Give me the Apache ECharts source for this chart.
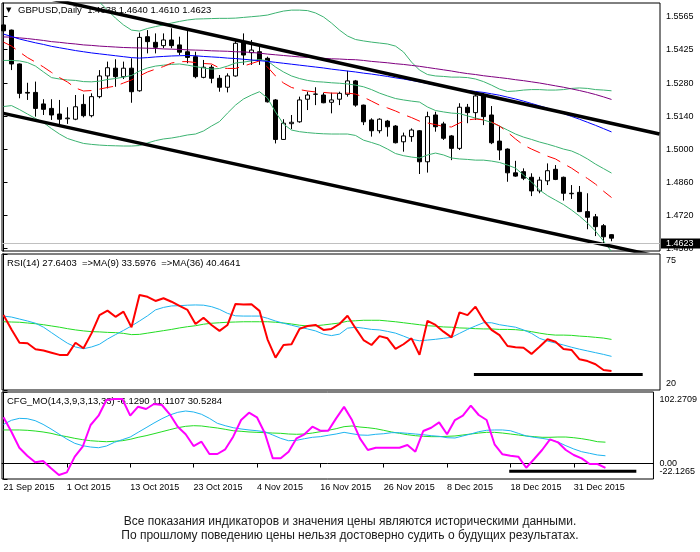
<!DOCTYPE html>
<html lang="en">

<head>
    <meta charset="UTF-8">
    <title>GBPUSD, Daily</title>
    <script src="https://cdn.jsdelivr.net/npm/echarts@6/dist/echarts.min.js"></script>
    <style>
        html, body { margin: 0; padding: 0; background: #fff; }
        #main { width: 700px; height: 552px; }
    </style>
</head>

<body>
    <div id="main"></div>
    <script>
        // daily bars 21 Sep 2015 .. 7 Jan 2016 (no bars on 25 Dec and 1 Jan), x = bar index
        var dateLabels = ['21 Sep 2015', '1 Oct 2015', '13 Oct 2015', '23 Oct 2015', '4 Nov 2015',
            '16 Nov 2015', '26 Nov 2015', '8 Dec 2015', '18 Dec 2015', '31 Dec 2015'];
        var dateLabelIdx = [0, 8, 16, 24, 32, 40, 48, 56, 64, 72];

        var opens = [1.5530, 1.5508, 1.5364, 1.5243, 1.5243, 1.5194, 1.5175, 1.5151, 1.5131, 1.5129,
            1.5192, 1.5144, 1.5225, 1.5313, 1.5346, 1.5310, 1.5346, 1.5250, 1.5480, 1.5456,
            1.5442, 1.5466, 1.5445, 1.5416, 1.5395, 1.5307, 1.5350, 1.5303, 1.5265, 1.5313,
            1.5455, 1.5412, 1.5416, 1.5388, 1.5211, 1.5043, 1.5110, 1.5118, 1.5214, 1.5235,
            1.5232, 1.5201, 1.5214, 1.5235, 1.5292, 1.5189, 1.5126, 1.5080, 1.5121, 1.5100,
            1.5033, 1.5055, 1.5080, 1.4948, 1.5147, 1.5109, 1.5058, 1.5005, 1.5180, 1.5157,
            1.5232, 1.5147, 1.5036, 1.5002, 1.4901, 1.4906, 1.4882, 1.4824, 1.4867, 1.4916,
            1.4882, 1.4812, 1.4818, 1.4736, 1.4714, 1.4676, 1.4638];
        var highs = [1.5545, 1.5510, 1.5366, 1.5284, 1.5289, 1.5214, 1.5214, 1.5211, 1.5180, 1.5232,
            1.5235, 1.5239, 1.5338, 1.5374, 1.5384, 1.5374, 1.5388, 1.5497, 1.5508, 1.5494,
            1.5494, 1.5516, 1.5480, 1.5516, 1.5416, 1.5381, 1.5360, 1.5317, 1.5324, 1.5466,
            1.5494, 1.5466, 1.5437, 1.5395, 1.5215, 1.5129, 1.5147, 1.5225, 1.5246, 1.5265,
            1.5242, 1.5242, 1.5246, 1.5335, 1.5296, 1.5191, 1.5133, 1.5133, 1.5126, 1.5104,
            1.5072, 1.5090, 1.5083, 1.5161, 1.5161, 1.5118, 1.5062, 1.5197, 1.5194, 1.5242,
            1.5242, 1.5185, 1.5100, 1.5005, 1.4952, 1.4920, 1.4899, 1.4884, 1.4941, 1.4934,
            1.4885, 1.4849, 1.4845, 1.4814, 1.4726, 1.4683, 1.4640];
        var lows = [1.5495, 1.5338, 1.5218, 1.5211, 1.5140, 1.5147, 1.5126, 1.5104, 1.5109, 1.5125,
            1.5137, 1.5137, 1.5218, 1.5260, 1.5267, 1.5300, 1.5199, 1.5246, 1.5409, 1.5409,
            1.5431, 1.5431, 1.5402, 1.5367, 1.5303, 1.5303, 1.5282, 1.5246, 1.5243, 1.5310,
            1.5360, 1.5360, 1.5360, 1.5200, 1.5026, 1.5041, 1.5087, 1.5114, 1.5168, 1.5189,
            1.5197, 1.5154, 1.5189, 1.5225, 1.5182, 1.5104, 1.5055, 1.5069, 1.5055, 1.5026,
            1.4991, 1.5033, 1.4896, 1.4902, 1.5076, 1.5041, 1.4955, 1.4998, 1.5112, 1.5126,
            1.5104, 1.5023, 1.4955, 1.4863, 1.4884, 1.4870, 1.4802, 1.4814, 1.4849, 1.4870,
            1.4783, 1.4790, 1.4734, 1.4661, 1.4632, 1.4590, 1.4610];
        var closes = [1.5505, 1.5364, 1.5239, 1.5240, 1.5175, 1.5171, 1.5147, 1.5129, 1.5134, 1.5182,
            1.5144, 1.5225, 1.5313, 1.5348, 1.5310, 1.5346, 1.5246, 1.5477, 1.5459, 1.5435,
            1.5466, 1.5442, 1.5414, 1.5392, 1.5310, 1.5350, 1.5303, 1.5265, 1.5313, 1.5452,
            1.5402, 1.5423, 1.5381, 1.5203, 1.5043, 1.5112, 1.5116, 1.5211, 1.5232, 1.5236,
            1.5199, 1.5211, 1.5239, 1.5292, 1.5189, 1.5118, 1.5080, 1.5129, 1.5097, 1.5029,
            1.5058, 1.5083, 1.4948, 1.5140, 1.5097, 1.5048, 1.5005, 1.5180, 1.5157, 1.5228,
            1.5140, 1.5029, 1.4998, 1.4901, 1.4887, 1.4878, 1.4824, 1.4870, 1.4910, 1.4873,
            1.4814, 1.4814, 1.4736, 1.4712, 1.4672, 1.4629, 1.4623];
        var lastPrice = 1.4623;

        // moving averages and bands on the price chart
        var maFast = [1.5457, 1.5440, 1.5415, 1.5391, 1.5372, 1.5351, 1.5328, 1.5306, 1.5287, 1.5262,
            1.5249, 1.5251, 1.5257, 1.5264, 1.5270, 1.5283, 1.5296, 1.5313, 1.5330, 1.5342,
            1.5353, 1.5368, 1.5374, 1.5374, 1.5370, 1.5366, 1.5364, 1.5347, 1.5345, 1.5345,
            1.5355, 1.5366, 1.5377, 1.5351, 1.5313, 1.5283, 1.5264, 1.5255, 1.5249, 1.5245,
            1.5243, 1.5240, 1.5240, 1.5240, 1.5236, 1.5223, 1.5206, 1.5189, 1.5177, 1.5164,
            1.5149, 1.5136, 1.5121, 1.5113, 1.5106, 1.5098, 1.5096, 1.5113, 1.5126, 1.5130,
            1.5126, 1.5117, 1.5100, 1.5074, 1.5045, 1.5019, 1.5002, 1.4987, 1.4972, 1.4960,
            1.4940, 1.4921, 1.4898, 1.4877, 1.4853, 1.4823, 1.4796];
        var maMid = [1.5491, 1.5481, 1.5470, 1.5462, 1.5454, 1.5447, 1.5439, 1.5433, 1.5427, 1.5421,
            1.5416, 1.5411, 1.5407, 1.5403, 1.5399, 1.5395, 1.5391, 1.5389, 1.5391, 1.5394,
            1.5396, 1.5398, 1.5399, 1.5400, 1.5399, 1.5396, 1.5394, 1.5392, 1.5389, 1.5387,
            1.5384, 1.5381, 1.5378, 1.5375, 1.5371, 1.5367, 1.5363, 1.5359, 1.5355, 1.5351,
            1.5347, 1.5342, 1.5338, 1.5334, 1.5330, 1.5325, 1.5321, 1.5316, 1.5311, 1.5305,
            1.5300, 1.5294, 1.5288, 1.5281, 1.5274, 1.5268, 1.5262, 1.5256, 1.5251, 1.5247,
            1.5243, 1.5237, 1.5231, 1.5223, 1.5215, 1.5206, 1.5196, 1.5186, 1.5176, 1.5165,
            1.5153, 1.5141, 1.5129, 1.5116, 1.5103, 1.5089, 1.5075];
        var maSlow = [1.5479, 1.5478, 1.5475, 1.5472, 1.5468, 1.5464, 1.5459, 1.5456, 1.5452, 1.5449,
            1.5445, 1.5443, 1.5440, 1.5438, 1.5436, 1.5434, 1.5433, 1.5432, 1.5431, 1.5430,
            1.5428, 1.5427, 1.5426, 1.5424, 1.5423, 1.5422, 1.5420, 1.5419, 1.5418, 1.5416,
            1.5415, 1.5413, 1.5410, 1.5406, 1.5403, 1.5400, 1.5397, 1.5394, 1.5392, 1.5390,
            1.5388, 1.5386, 1.5385, 1.5383, 1.5382, 1.5379, 1.5375, 1.5372, 1.5369, 1.5365,
            1.5362, 1.5358, 1.5354, 1.5349, 1.5344, 1.5339, 1.5334, 1.5328, 1.5323, 1.5319,
            1.5314, 1.5310, 1.5306, 1.5302, 1.5297, 1.5293, 1.5288, 1.5283, 1.5277, 1.5271,
            1.5265, 1.5258, 1.5251, 1.5243, 1.5234, 1.5224, 1.5213];
        var bandUp = [1.5670, 1.5670, 1.5666, 1.5666, 1.5662, 1.5662, 1.5657, 1.5657, 1.5653, 1.5653,
            1.5649, 1.5649, 1.5627, 1.5593, 1.5559, 1.5530, 1.5508, 1.5504, 1.5515, 1.5523,
            1.5530, 1.5538, 1.5545, 1.5551, 1.5555, 1.5556, 1.5557, 1.5558, 1.5558, 1.5559,
            1.5562, 1.5565, 1.5568, 1.5572, 1.5581, 1.5589, 1.5593, 1.5593, 1.5591, 1.5581,
            1.5564, 1.5538, 1.5508, 1.5483, 1.5468, 1.5462, 1.5457, 1.5453, 1.5449, 1.5440,
            1.5415, 1.5372, 1.5338, 1.5319, 1.5313, 1.5311, 1.5308, 1.5308, 1.5306, 1.5300,
            1.5289, 1.5274, 1.5257, 1.5247, 1.5249, 1.5253, 1.5255, 1.5255, 1.5253, 1.5253,
            1.5255, 1.5260, 1.5262, 1.5260, 1.5255, 1.5253, 1.5250];
        var bandMid = [1.5379, 1.5379, 1.5377, 1.5370, 1.5355, 1.5330, 1.5306, 1.5300, 1.5296, 1.5294,
            1.5289, 1.5288, 1.5291, 1.5298, 1.5302, 1.5308, 1.5315, 1.5334, 1.5347, 1.5355,
            1.5359, 1.5362, 1.5364, 1.5359, 1.5353, 1.5347, 1.5342, 1.5345, 1.5355, 1.5368,
            1.5372, 1.5377, 1.5383, 1.5377, 1.5351, 1.5330, 1.5313, 1.5302, 1.5294, 1.5289,
            1.5287, 1.5284, 1.5282, 1.5279, 1.5274, 1.5267, 1.5255, 1.5240, 1.5228, 1.5217,
            1.5211, 1.5206, 1.5202, 1.5181, 1.5166, 1.5160, 1.5155, 1.5153, 1.5143, 1.5134,
            1.5126, 1.5115, 1.5100, 1.5083, 1.5066, 1.5053, 1.5043, 1.5032, 1.5023, 1.5013,
            1.5002, 1.4994, 1.4979, 1.4960, 1.4938, 1.4919, 1.4900];
        var bandLow = [1.5183, 1.5187, 1.5170, 1.5151, 1.5132, 1.5115, 1.5089, 1.5066, 1.5047, 1.5036,
            1.5026, 1.5022, 1.5019, 1.5017, 1.5016, 1.5015, 1.5015, 1.5017, 1.5028, 1.5038,
            1.5045, 1.5049, 1.5055, 1.5062, 1.5066, 1.5079, 1.5100, 1.5119, 1.5155, 1.5189,
            1.5215, 1.5232, 1.5246, 1.5219, 1.5160, 1.5108, 1.5083, 1.5076, 1.5072, 1.5069,
            1.5067, 1.5066, 1.5066, 1.5066, 1.5060, 1.5040, 1.5030, 1.5019, 1.5002, 1.4983,
            1.4974, 1.4968, 1.4964, 1.4977, 1.4985, 1.4977, 1.4964, 1.4960, 1.4958, 1.4955,
            1.4955, 1.4951, 1.4945, 1.4934, 1.4921, 1.4892, 1.4862, 1.4828, 1.4804, 1.4785,
            1.4766, 1.4743, 1.4717, 1.4687, 1.4653, 1.4611, 1.4566];

        // hand drawn channel lines: [bar index, price]
        var channelTop = [[0, 1.5685], [82, 1.5066]];
        var channelBottom = [[0, 1.5154], [82, 1.4544]];

        // RSI(14) with its moving averages
        var rsi = [50.3, 44.5, 39.1, 38.9, 36.5, 36.0, 35.1, 34.2, 34.2, 39.1,
            36.9, 42.9, 50.3, 52.1, 49.6, 51.7, 45.4, 58.4, 57.7, 56.0,
            57.1, 55.7, 54.0, 52.4, 46.7, 49.2, 46.3, 43.9, 46.3, 54.8,
            54.6, 54.7, 52.0, 40.5, 33.1, 38.2, 38.5, 44.7, 45.9, 46.3,
            44.3, 44.7, 46.7, 50.0, 45.0, 40.2, 38.2, 41.8, 40.9, 36.6,
            38.5, 40.9, 34.2, 48.0, 46.3, 43.6, 41.3, 51.4, 50.3, 53.7,
            48.3, 44.3, 42.2, 37.8, 37.3, 37.1, 34.6, 37.5, 40.5, 39.5,
            36.6, 36.2, 32.4, 31.7, 30.4, 28.1, 27.64];
        var rsiMa9 = [49.9, 49.5, 48.7, 47.9, 47.0, 45.4, 43.2, 41.0, 38.9, 37.4,
            36.7, 37.4, 38.5, 40.6, 42.4, 44.1, 45.9, 47.9, 50.0, 52.4,
            53.4, 54.0, 54.1, 54.3, 54.4, 54.3, 53.7, 52.6, 51.0, 50.0,
            49.9, 49.9, 49.9, 49.0, 47.9, 47.0, 46.2, 45.4, 44.7, 43.9,
            42.6, 42.0, 42.6, 45.0, 45.4, 45.0, 44.5, 44.3, 43.7, 43.0,
            41.8, 40.5, 39.9, 40.2, 40.5, 40.9, 41.3, 42.9, 44.5, 45.9,
            47.2, 47.2, 46.4, 45.9, 45.4, 44.3, 42.9, 40.9, 39.8, 39.0,
            38.2, 37.3, 36.5, 35.8, 35.1, 34.4, 33.60];
        var rsiMa36 = [47.6, 47.5, 47.4, 47.1, 46.8, 46.4, 45.9, 45.4, 44.8, 44.3,
            43.9, 43.6, 43.5, 43.3, 43.2, 42.9, 42.4, 42.5, 43.0, 43.5,
            44.0, 44.5, 45.1, 45.6, 46.0, 46.6, 47.0, 47.2, 47.4, 47.5,
            47.6, 47.6, 47.6, 47.6, 47.4, 47.1, 46.7, 46.2, 45.9, 46.0,
            46.3, 46.7, 47.1, 47.8, 48.0, 48.2, 48.2, 48.2, 47.9, 47.6,
            47.2, 46.8, 46.4, 46.0, 45.8, 45.5, 45.4, 45.1, 45.0, 44.8,
            44.7, 44.7, 44.5, 44.5, 44.4, 44.1, 43.6, 43.0, 42.5, 42.2,
            42.2, 42.1, 41.8, 41.6, 41.3, 41.0, 40.46];
        var rsiFloor = [[58.8, 26.3], [79.9, 26.3]];

        // CFG_MO(14,3,9,3,13,33)
        var cfgMain = [66.1, 45.5, 22.6, 11.2, 1.7, 3.6, -6.9, -16.4, -12.6, 9.8,
            24.0, 55.1, 68.4, 90.8, 92.2, 92.2, 68.4, 81.3, 78.0, 85.1,
            83.7, 70.4, 52.7, 41.8, 25.0, 31.2, 13.6, 13.6, 20.3, 38.4,
            62.2, 72.7, 66.1, 43.2, 7.4, 7.4, 16.9, 36.0, 41.8, 52.7,
            46.9, 46.9, 64.6, 81.0, 62.2, 36.0, 19.3, 22.6, 22.6, 22.6,
            22.6, 26.5, 16.9, 46.5, 51.2, 58.9, 41.8, 62.2, 68.4, 82.7,
            69.4, 62.2, 27.5, 13.2, 11.2, 9.8, -6.0, 6.5, 19.3, 34.6,
            30.3, 19.3, 12.2, 7.4, -0.7, -0.7, -6.129];
        var cfgFast = [56.0, 61.8, 64.6, 64.1, 61.3, 56.0, 49.4, 42.2, 35.0, 28.9,
            25.5, 23.6, 22.6, 25.0, 30.3, 34.1, 37.9, 44.6, 51.2, 57.9,
            64.1, 69.4, 73.2, 75.1, 73.7, 70.4, 64.6, 57.5, 54.1, 51.2,
            49.4, 48.0, 46.9, 45.5, 40.8, 36.0, 32.6, 33.2, 35.5, 37.5,
            38.4, 40.4, 42.2, 44.6, 42.6, 40.8, 40.4, 41.8, 42.6, 44.1,
            44.1, 43.2, 42.2, 41.2, 39.8, 38.9, 36.9, 36.5, 39.4, 42.2,
            45.5, 47.5, 48.0, 48.0, 46.9, 43.2, 39.4, 37.5, 36.0, 34.1,
            30.8, 25.5, 20.8, 16.9, 14.6, 12.2, 11.11];
        var cfgSlow = [48.0, 48.0, 48.0, 47.5, 46.5, 45.1, 43.2, 40.4, 38.4, 36.0,
            34.1, 32.6, 31.8, 31.2, 31.8, 32.6, 34.6, 37.5, 39.8, 42.6,
            45.5, 48.4, 51.2, 53.2, 54.1, 53.7, 52.2, 50.8, 48.9, 46.9,
            46.1, 45.1, 44.6, 44.1, 43.6, 43.2, 42.2, 41.8, 42.2, 43.6,
            45.5, 47.5, 49.8, 52.7, 53.7, 52.2, 51.2, 49.8, 47.5, 45.1,
            43.2, 41.2, 39.8, 38.9, 38.4, 38.4, 38.9, 39.4, 40.8, 42.2,
            43.6, 44.6, 44.6, 43.6, 42.2, 40.8, 39.4, 38.4, 37.5, 37.5,
            37.9, 37.9, 36.9, 35.5, 33.6, 31.2, 30.53];
        var cfgFloor = [[63.85, -11.0], [79.9, -11.0]];

        // axis tick labels
        var priceTicks = [1.5565, 1.5425, 1.5280, 1.5140, 1.5000, 1.4860, 1.4720, 1.4580];
        var rsiTicks = [75, 20];
        var cfgTicks = [102.2709, 0, -22.1265];
        var cfgTickText = ['102.2709', '0.00', '-22.1265'];

        var priceTitle = 'GBPUSD,Daily  1.4638 1.4640 1.4610 1.4623';
        var rsiTitle = 'RSI(14) 27.6403  =>MA(9) 33.5976  =>MA(36) 40.4641';
        var cfgTitle = 'CFG_MO(14,3,9,3,13,33) -6.1290 11.1107 30.5284';
        var notes = ['Все показания индикаторов и значения цены являются историческими данными.',
            'По прошлому поведению цены нельзя достоверно судить о будущих результатах.'];

        var FONT = '"Liberation Sans", Arial, sans-serif';
        var X_MIN = -0.1875, X_MAX = 82.0625;

        function withIndex(arr) {
            return arr.map(function (v, i) { return [i, v]; });
        }

        function line(name, arr, grid, color, width, dash) {
            return {
                name: name,
                type: 'line',
                xAxisIndex: grid,
                yAxisIndex: grid,
                data: arr,
                symbol: 'none',
                silent: true,
                clip: true,
                lineStyle: { color: color, width: width, type: dash || 'solid' }
            };
        }

        var candles = opens.map(function (o, i) {
            return [i, o, closes[i], lows[i], highs[i]];
        });

        var myChart = echarts.init(document.getElementById('main'), null, { renderer: 'canvas' });

        var gridBox = { left: 2, width: 658, show: true, borderColor: '#000', borderWidth: 1, backgroundColor: '#fff' };
        var tickFont = { color: '#000', fontSize: 9, fontFamily: FONT };
        var noLine = { show: false };

        var option = {
            animation: false,
            backgroundColor: '#fff',
            grid: [
                Object.assign({ top: 3, height: 248 }, gridBox),
                Object.assign({ top: 254, height: 136 }, gridBox),
                Object.assign({ top: 392, height: 87 }, gridBox)
            ],
            xAxis: [
                { gridIndex: 0, type: 'value', min: X_MIN, max: X_MAX, show: false },
                { gridIndex: 1, type: 'value', min: X_MIN, max: X_MAX, show: false },
                {
                    gridIndex: 2, type: 'value', min: X_MIN, max: X_MAX,
                    axisLine: { show: true, lineStyle: { color: '#000', width: 1 } },
                    axisTick: { show: true, length: 4, customValues: dateLabelIdx, lineStyle: { color: '#000' } },
                    axisLabel: Object.assign({
                        customValues: dateLabelIdx,
                        formatter: function (v) { return dateLabels[dateLabelIdx.indexOf(v)]; },
                        align: 'left', margin: 4, hideOverlap: false
                    }, tickFont),
                    splitLine: { show: false }
                }
            ],
            yAxis: [
                {
                    gridIndex: 0, type: 'value', position: 'right', min: 1.45685, max: 1.56233,
                    axisLine: { show: true, lineStyle: { color: '#000' } },
                    axisTick: { show: true, length: 4, customValues: priceTicks, lineStyle: { color: '#000' } },
                    axisLabel: Object.assign({
                        customValues: priceTicks,
                        formatter: function (v) { return v.toFixed(4); },
                        margin: 6, hideOverlap: false, showMinLabel: true, showMaxLabel: true
                    }, tickFont),
                    splitLine: { show: false }
                },
                {
                    gridIndex: 1, type: 'value', position: 'right', min: 20, max: 75,
                    axisLine: { show: true, lineStyle: { color: '#000' } },
                    axisTick: { show: true, length: 4, customValues: rsiTicks, lineStyle: { color: '#000' } },
                    axisLabel: {
                        customValues: rsiTicks,
                        // MT4 keeps the edge labels inside the window
                        formatter: function (v) { return v === 75 ? '{t|75}' : '{b|20}'; },
                        margin: 6, hideOverlap: false, showMinLabel: true, showMaxLabel: true,
                        rich: {
                            t: Object.assign({ padding: [13, 0, 0, 0] }, tickFont),
                            b: Object.assign({ padding: [0, 0, 13, 0] }, tickFont)
                        }
                    },
                    splitLine: { show: false }
                },
                {
                    // CFG scale: ticks and the middle label
                    gridIndex: 2, type: 'value', position: 'right', min: -22.1265, max: 102.2709,
                    axisLine: { show: true, lineStyle: { color: '#000' } },
                    axisTick: { show: true, length: 4, customValues: cfgTicks, lineStyle: { color: '#000' } },
                    axisLabel: Object.assign({
                        customValues: [cfgTicks[1]],
                        formatter: function () { return cfgTickText[1]; },
                        margin: 6, hideOverlap: false
                    }, tickFont),
                    splitLine: { show: false }
                },
                {
                    // CFG scale: edge labels kept inside the window
                    gridIndex: 2, type: 'value', position: 'right', min: -22.1265, max: 102.2709,
                    axisLine: noLine, axisTick: noLine, splitLine: noLine,
                    axisLabel: {
                        customValues: [cfgTicks[0], cfgTicks[2]],
                        formatter: function (v) {
                            return v > 0 ? '{t|' + cfgTickText[0] + '}' : '{b|' + cfgTickText[2] + '}';
                        },
                        margin: 6, hideOverlap: false, showMinLabel: true, showMaxLabel: true,
                        rich: {
                            t: Object.assign({ padding: [16, 0, 0, 0] }, tickFont),
                            b: Object.assign({ padding: [0, 0, 14, 0] }, tickFont)
                        }
                    }
                }
            ],
            series: [
                {
                    name: 'GBPUSD',
                    type: 'candlestick',
                    xAxisIndex: 0,
                    yAxisIndex: 0,
                    data: candles,
                    barWidth: 4,
                    clip: true,
                    silent: true,
                    itemStyle: {
                        color: '#fff', color0: '#000',
                        borderColor: '#000', borderColor0: '#000', borderWidth: 1
                    },
                    markLine: {
                        silent: true,
                        symbol: ['none', 'none'],
                        data: [{ yAxis: lastPrice }],
                        lineStyle: { color: '#c0c0c0', width: 1, type: 'solid' },
                        label: {
                            position: 'end', distance: 1,
                            formatter: lastPrice.toFixed(4),
                            color: '#fff', backgroundColor: '#000', verticalAlign: 'middle',
                            lineHeight: 10, padding: [0, 10, 0, 5], fontSize: 9, fontFamily: FONT
                        }
                    }
                },
                line('Upper band', withIndex(bandUp), 0, '#3cb371', 1),
                line('Middle band', withIndex(bandMid), 0, '#3cb371', 1),
                line('Lower band', withIndex(bandLow), 0, '#3cb371', 1),
                line('MA slow', withIndex(maSlow), 0, '#800080', 1),
                line('MA mid', withIndex(maMid), 0, '#0000ff', 1),
                line('MA fast', withIndex(maFast), 0, '#ff0000', 1, [14, 8]),
                line('Channel top', channelTop, 0, '#000', 3.5),
                line('Channel bottom', channelBottom, 0, '#000', 3.5),

                line('MA(36)', withIndex(rsiMa36), 1, '#22dd22', 1),
                line('MA(9)', withIndex(rsiMa9), 1, '#1eb4f0', 1),
                line('RSI(14)', withIndex(rsi), 1, '#ff0000', 2),
                line('RSI floor', rsiFloor, 1, '#000', 3),

                line('CFG slow', withIndex(cfgSlow), 2, '#22dd22', 1),
                line('CFG fast', withIndex(cfgFast), 2, '#1eb4f0', 1),
                line('CFG_MO', withIndex(cfgMain), 2, '#ff00ff', 2),
                line('CFG floor', cfgFloor, 2, '#000', 3)
            ],
            graphic: [
                { type: 'text', x: 6, y: 10, style: { text: '▼', fill: '#000', font: '7px "DejaVu Sans"', verticalAlign: 'middle' } },
                { type: 'text', x: 18, y: 10, style: { text: priceTitle, fill: '#000', font: '9.5px ' + FONT, verticalAlign: 'middle' } },
                { type: 'text', x: 7, y: 263, style: { text: rsiTitle, fill: '#000', font: '9.5px ' + FONT, verticalAlign: 'middle' } },
                { type: 'text', x: 7, y: 401, style: { text: cfgTitle, fill: '#000', font: '9.5px ' + FONT, verticalAlign: 'middle' } },
                { type: 'text', x: 350, y: 522, style: { text: notes[0], fill: '#1a1a1a', font: '12px ' + FONT, align: 'center', verticalAlign: 'middle' } },
                { type: 'text', x: 350, y: 536, style: { text: notes[1], fill: '#1a1a1a', font: '12px ' + FONT, align: 'center', verticalAlign: 'middle' } }
            ]
        };

        myChart.setOption(option);
    </script>
</body>

</html>
